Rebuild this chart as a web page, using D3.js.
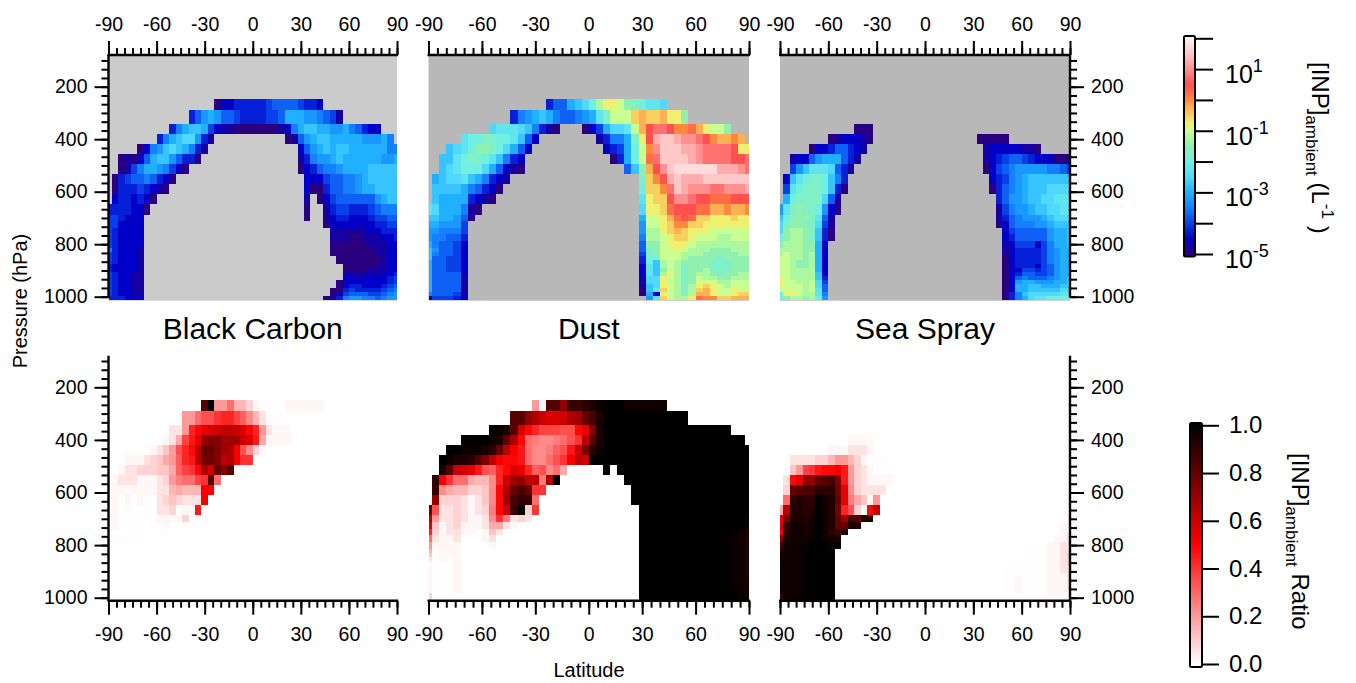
<!DOCTYPE html>
<html>
<head>
<meta charset="utf-8">
<script src="https://cdn.jsdelivr.net/npm/d3@7"></script>
<style>
  body { margin: 0; background: #fff; }
  text { font-family: "Liberation Sans", Arial, sans-serif; fill: #000; }
</style>
</head>
<body>
<script>
// Each row is one pressure layer, top to bottom. A row holds [first column, codes] runs.
// Columns are the 4 degree latitude bands (half bands at the poles).
const pressureEdges = [247, 289, 343, 381, 419, 457, 496, 534, 572, 610, 648, 687, 712, 738, 763, 789,
  814, 830, 845, 860, 875, 890, 906, 921, 936, 952, 967, 982, 998, 1013.25];

// INP codes: base 36, log10(INP) = -5 + code / 4
const blackCarbonInp = [
  [[17, "02233333455554332"]],
  [[13, "357875543333445888776541"]],
  [[10, "368998421100000001268998877865322"]],
  [[8, "3689aa731"], [28, "01578998888877786"]],
  [[5, "02679a98631"], [30, "2578989988888866"]],
  [[2, "0102589975330"], [30, "1367789888888778"]],
  [[2, "01468876420"], [30, "0235667888899999"]],
  [[1, "0345565320"], [31, "222455667899999"]],
  [[1, "033343210"], [31, "200355667889999"]],
  [[1, "2332320"], [31, "1"], [33, "0245555557899"]],
  [[0, "3333220"], [31, "0"], [34, "134433345666"]],
  [[0, "443222"], [31, "0"], [34, "123322234455"]],
  [[0, "442222"], [34, "022222223344"]],
  [[0, "432222"], [35, "11111122333"]],
  [[0, "432222"], [35, "11100111223"]],
  [[0, "432222"], [35, "00000011122"]],
  [[0, "632221"], [35, "00000001122"]],
  [[0, "432221"], [35, "00000001122"]],
  [[0, "432221"], [36, "0000000122"]],
  [[0, "432221"], [36, "0000000122"]],
  [[0, "322221"], [37, "000001122"]],
  [[0, "322221"], [37, "000011122"]],
  [[0, "432211"], [37, "111111223"]],
  [[0, "432211"], [37, "221222234"]],
  [[0, "432211"], [36, "0222222234"]],
  [[0, "432211"], [36, "0233222345"]],
  [[0, "432211"], [35, "00343333456"]],
  [[0, "432211"], [35, "01455544567"]],
  [[0, "333222"], [34, "013677665677"]]
];

const dustInp = [
  [[17, "35589acfhhgedcbba"]],
  [[12, "367898655678bdgggijiijhhe"]],
  [[9, "abbba96310"], [22, "0248aabgjmnnmkkljhgge"]],
  [[5, "bccddccb952"], [24, "13668dhmpqqpoonmkjjkj"]],
  [[3, "9abceedca852"], [25, "2348cgkoqqqpponnnnmhh"]],
  [[2, "99bcddcb9632"], [26, "038cglnqqqqponnnnmmn"]],
  [[2, "9abccca85210"], [28, "59ejmoqrrrrrrpppon"]],
  [[1, "89aab986321"], [30, "dikmpqpppqqqqqqq"]],
  [[1, "9999865320"], [30, "ciiknqpooonnooop"]],
  [[1, "988883210"], [30, "bhiimoonmmlllmmm"]],
  [[0, "ba888610"], [30, "ahhilmmmlljjkjjk"]],
  [[0, "9988750"], [30, "8gghjlmliihhhihh"]],
  [[0, "887774"], [30, "7gghikkiihhhhhhh"]],
  [[0, "776664"], [30, "7ffhijihhhgggggg"]],
  [[0, "766553"], [30, "6ffghiihgggffggg"]],
  [[0, "865542"], [30, "5eeghhhgffffffff"]],
  [[0, "975542"], [30, "5degghgfffeeefff"]],
  [[0, "965542"], [30, "4degggfffeeeeeff"]],
  [[0, "955442"], [30, "3cdgggfeeeedeeee"]],
  [[0, "855442"], [30, "3c9fgfeeeedddeee"]],
  [[0, "855442"], [30, "2b9fgfdeeedddeee"]],
  [[0, "855442"], [30, "2b9egfdeefdddeee"]],
  [[0, "855552"], [30, "2b9fhfdeffedeeff"]],
  [[0, "855551"], [30, "1aahgfdegffeefff"]],
  [[0, "855551"], [30, "1aahgfdegggffggg"]],
  [[0, "855551"], [30, "19ahgfdfhihgfggg"]],
  [[0, "855551"], [30, "09bigfdfijhgghgg"]],
  [[0, "655541"], [30, "082hgfefjjhgghii"]],
  [[0, "144432"], [31, "7bigffhlkkiijjj"]]
];

const seaSprayInp = [
  [],
  [],
  [[12, "000"]],
  [[8, "0122210"], [31, "00000"]],
  [[5, "022355321"], [32, "122222110"]],
  [[2, "12257888531"], [32, "12345543222000"]],
  [[2, "479bbba531"], [32, "02456777776654"]],
  [[1, "29bcddc963"], [33, "2346789999999"]],
  [[1, "4bcdddc930"], [33, "035678999aaaa"]],
  [[1, "8cdddda51"], [34, "3577899aabbb"]],
  [[0, "7bdeddc720"], [34, "14677899aabb"]],
  [[0, "9ceeedb51"], [34, "135677789aaa"]],
  [[0, "adeedda41"], [34, "025666778999"]],
  [[0, "aeffed930"], [35, "24555557889"]],
  [[0, "ceffed930"], [35, "23555557889"]],
  [[0, "efffee82"], [35, "12444246889"]],
  [[0, "ffffee82"], [35, "12333346788"]],
  [[0, "fgffef82"], [35, "12333346788"]],
  [[0, "ggffef82"], [35, "02333346788"]],
  [[0, "ggfeef82"], [35, "02333346788"]],
  [[0, "ggfeef82"], [35, "02333245788"]],
  [[0, "ggffff82"], [35, "02244345788"]],
  [[0, "ggffff92"], [35, "02355445788"]],
  [[0, "hgffff93"], [35, "02565556789"]],
  [[0, "hggffga4"], [35, "02788777889"]],
  [[0, "hgggfga5"], [35, "02889988899"]],
  [[0, "ggggfgb5"], [35, "028899999aa"]],
  [[0, "chhgffb6"], [35, "0369aaaaabb"]],
  [[0, "ceffefc7"], [35, "0368abbcccc"]]
];

// Ratio codes: base 36, ratio = code / 35, the two lowest codes are fainter (see ratioOf)
const blackCarbonRatio = [
  [[15, "tz77a55310000111111"]],
  [[12, "77acceffdb852000000"]],
  [[10, "227fhjklmmlkhf72111"]],
  [[8, "0126dgjpqqooolkg61111"]],
  [[6, "01247cfhmssqonic831"]],
  [[2, "011123467bfgmrrqmniee"]],
  [[2, "122333446bdehnlsqt"]],
  [[1, "12221112379aadeta"]],
  [[1, "11111112256555ii"]],
  [[1, "10101002343222i"]],
  [[1, "1000000223011g"]],
  [[1, "100000011113"]],
  [[1, "100000001"]],
  [[1, "000000000"]],
  [[1, "00000"]],
  [[4, "0"]],
  [[4, "0"]]
];

const dustRatio = [
  [[15, "71ttpvvwxyzzzyyyyyy"]],
  [[12, "ttpnlkklnosuxzzzzzzzzzzzz"]],
  [[9, "zyxtkhfdddcchjqxzzzzzzzzzzzzzzzzzz"]],
  [[5, "zzzzyxsnha9889acemtxzzzzzzzzzzzzzzzzzzzz"]],
  [[3, "zzyyyxwsmiga889bcglrwyzzzzzzzzzzzzzzzzzzzzz"]],
  [[2, "zyxxwtqmihhga88aceimlzzzzzzzzzzzzzzzzzzzzzzz"]],
  [[2, "xtlkjgcbfhkjfbc8a6"], [25, "z"], [27, "zzzzzzzzzzzzzzzzzzz"]],
  [[1, "wieaa6558flopmm9nz"], [28, "zzzzzzzzzzzzzzzzzz"]],
  [[1, "v86553348hnsusee"], [29, "zzzzzzzzzzzzzzzzz"]],
  [[1, "p33321248houwva"], [29, "zzzzzzzzzzzzzzzzz"]],
  [[0, "sc22321239hlvz3e"], [30, "zzzzzzzzzzzzzzzz"]],
  [[0, "m722321128e9232"], [30, "zzzzzzzzzzzzzzzy"]],
  [[0, "j412311126621"], [30, "zzzzzzzzzzzzzzzy"]],
  [[0, "f3122110142"], [30, "zzzzzzzzzzzzzzyx"]],
  [[0, "a211200012"], [30, "zzzzzzzzzzzzzyyx"]],
  [[0, "7111100001"], [30, "zzzzzzzzzzzzzyyx"]],
  [[0, "50111"], [30, "zzzzzzzzzzzzzyyx"]],
  [[0, "40111"], [30, "zzzzzzzzzzzzzyyx"]],
  [[0, "20101"], [30, "zzzzzzzzzzzzzyyx"]],
  [[0, "10001"], [30, "zzzzzzzzzzzzzyyx"]],
  [[0, "10001"], [30, "zzzzzzzzzzzzzyyx"]],
  [[0, "10001"], [30, "zzzzzzzzzzzzzyyx"]],
  [[0, "10001"], [30, "zzzzzzzzzzzzzyyx"]],
  [[0, "10001"], [30, "zzzzzzzzzzzzzyyx"]],
  [[0, "10001"], [30, "zzzzzzzzzzzzzyyx"]],
  [[0, "10001"], [30, "zzzzzzzzzzzzzzyy"]],
  [[0, "10001"], [30, "zzzzzzzzzzzzzzyy"]],
  [[0, "30000"], [30, "zzzzzzzzzzzzzzyy"]],
  [[0, "30000"], [30, "zzzzzzzzzzzzzzyy"]]
];

const seaSprayRatio = [
  [],
  [],
  [[12, "00000000"]],
  [[10, "0111100"]],
  [[6, "001112221000"]],
  [[2, "222233577531000"], [21, "0"]],
  [[2, "47deghhig73210000"]],
  [[1, "2hjppstuqg73211110"]],
  [[1, "3stuuwwwrj832222"]],
  [[1, "awxwwzyxsj96417"]],
  [[0, "6mxxwxzyxrfc30hl"]],
  [[0, "jrxxxyzyxsoutwx"], [40, "000000"]],
  [[0, "kvyyxyzyxssxx"], [41, "00011"]],
  [[0, "iwyyxyzywvx"], [41, "00011"]],
  [[0, "qxyyyyzyyx"], [39, "0000112"]],
  [[0, "uyyyyzzzyz"], [38, "00001122"]],
  [[0, "xyyyzzzzz"], [38, "00001122"]],
  [[0, "yyyyzzzzz"], [37, "000001123"]],
  [[0, "yyyyzzzzz"], [36, "0000001123"]],
  [[0, "yyyyzzzzz"], [36, "0000001123"]],
  [[0, "yyyyzzzzz"], [35, "00000001122"]],
  [[0, "yyyyzzzzz"], [35, "00000001122"]],
  [[0, "yyyyzzzzz"], [35, "00000001112"]],
  [[0, "yyyyzzzzz"], [35, "00100001112"]],
  [[0, "yyyyzzzzz"], [35, "00100001112"]],
  [[0, "yyyyzzzzz"], [35, "00100001112"]],
  [[0, "yyyyzzzzz"], [35, "00100001111"]],
  [[0, "wyyyzzzzz"], [35, "00000001110"]],
  [[0, "wyyyzzzzz"], [35, "00000011110"]]
];

const panelNames = ["Black Carbon", "Dust", "Sea Spray"];
const latTicks = [-90, -60, -30, 0, 30, 60, 90];
const pressureTicks = [200, 400, 600, 800, 1000];
const inpExponents = [-5, -4, -3, -2, -1, 0, 1, 2];
const ratioTicks = [0, 0.2, 0.4, 0.6, 0.8, 1];
const faintRatios = [0.004, 0.016];

// colour ramps
const inpStops = [-5, -4.5, -4, -3.5, -3, -2.5, -2, -1.5, -1, -0.75, -0.25, 0, 0.5, 1, 1.5, 2.2];
const inpColors = ["#2a0080", "#0000c8", "#0a40e8", "#1480ff", "#20b0ff", "#50d8ff", "#70f0e0", "#90f0b0",
  "#c8ff90", "#f0f070", "#ffb050", "#ff8840", "#ff5050", "#ff9090", "#ffc8c8", "#ffffff"];
const inpColor = d3.scaleLinear().domain(inpStops).range(inpColors);
const ratioColor = d3.scaleLinear().domain([0, 0.5, 1]).range(["#ffffff", "#ff0000", "#000000"]);

const svg = d3.select("body").append("svg")
  .attr("width", 1356)
  .attr("height", 683);

const xRanges = [[108.5, 397], [428.5, 749], [780, 1070]];
const topBackgrounds = ["#cbcbcb", "#b8b8b8", "#b8b8b8"];
const minorLat = d3.range(-90, 91, 5);
const minorPressure = d3.range(1000, 81, -200 / 6);

const yTop = d3.scaleLinear().domain([200, 1000]).range([86.7, 296.7]);
const yBottom = d3.scaleLinear().domain([200, 1000]).range([387.3, 597.7]);

function latEdge(col) {
  return Math.max(-90, Math.min(90, -92 + 4 * col));
}

function ratioOf(code) {
  return code < faintRatios.length ? faintRatios[code] : code / 35;
}

// turn [first column, codes] runs into cells
function drawCells(group, rows, x, y, colorOf) {
  rows.forEach((runs, r) => {
    runs.forEach(([first, codes]) => {
      codes.split("").forEach((ch, i) => {
        const col = first + i;
        group.append("rect")
          .attr("x", x(latEdge(col)))
          .attr("y", y(pressureEdges[r]))
          .attr("width", x(latEdge(col + 1)) - x(latEdge(col)))
          .attr("height", y(pressureEdges[r + 1]) - y(pressureEdges[r]))
          .attr("fill", colorOf(parseInt(ch, 36)));
      });
    });
  });
}

function styleAxis(g) {
  g.selectAll("line").attr("stroke", "#000").attr("stroke-width", 2);
  g.select(".domain").remove();
  g.selectAll("text").style("font-size", "19.5px");
}

function drawXAxis(x, yPos, isTop) {
  const make = isTop ? d3.axisTop : d3.axisBottom;
  const g = svg.append("g").attr("transform", `translate(0,${yPos})`);
  g.append("g").call(make(x).tickValues(minorLat).tickSize(7).tickFormat("")).call(styleAxis);
  g.append("g").call(make(x).tickValues(latTicks).tickSize(14).tickPadding(isTop ? 10.5 : 12).tickFormat(d => String(d))).call(styleAxis);
  g.append("line")
    .attr("x1", x.range()[0] - 1).attr("x2", x.range()[1] + 1)
    .attr("stroke", "#000").attr("stroke-width", 2.4);
}

function drawYAxis(y, xPos, isLeft, yStart, yEnd) {
  const make = isLeft ? d3.axisLeft : d3.axisRight;
  const g = svg.append("g").attr("transform", `translate(${xPos},0)`);
  g.append("g").call(make(y).tickValues(minorPressure).tickSize(7).tickFormat("")).call(styleAxis);
  g.append("g").call(make(y).tickValues(pressureTicks).tickSize(14).tickPadding(7).tickFormat(d3.format("d"))).call(styleAxis);
  g.append("line")
    .attr("y1", yStart).attr("y2", yEnd)
    .attr("stroke", "#000").attr("stroke-width", 2.4);
}

const inpRows = [blackCarbonInp, dustInp, seaSprayInp];
const ratioRows = [blackCarbonRatio, dustRatio, seaSprayRatio];

panelNames.forEach((name, i) => {
  const x = d3.scaleLinear().domain([-90, 90]).range(xRanges[i]);

  // top row: ambient INP on a grey background
  svg.append("rect")
    .attr("x", xRanges[i][0]).attr("y", 55.7)
    .attr("width", xRanges[i][1] - xRanges[i][0]).attr("height", 245)
    .attr("fill", topBackgrounds[i]);
  drawCells(svg.append("g").attr("shape-rendering", "crispEdges"), inpRows[i], x, yTop,
    code => inpColor(-5 + code / 4));
  drawXAxis(x, 55, true);

  // bottom row: ratio on white
  drawCells(svg.append("g").attr("shape-rendering", "crispEdges"), ratioRows[i], x, yBottom,
    code => ratioColor(ratioOf(code)));
  drawXAxis(x, 600.7, false);

  svg.append("text")
    .attr("x", (xRanges[i][0] + xRanges[i][1]) / 2)
    .attr("y", 339)
    .attr("text-anchor", "middle")
    .style("font-size", "30px")
    .text(name);
});

const x0 = xRanges[0][0];
const x2 = xRanges[2][1];
drawYAxis(yTop, x0, true, 55, 297.5);
drawYAxis(yTop, x2, false, 55, 297.5);
drawYAxis(yBottom, x0, true, 355.7, 600.7);
drawYAxis(yBottom, x2, false, 355.7, 600.7);

svg.append("text")
  .attr("transform", "translate(27,301) rotate(-90)")
  .attr("text-anchor", "middle")
  .style("font-size", "20px")
  .text("Pressure (hPa)");

svg.append("text")
  .attr("x", 589)
  .attr("y", 677)
  .attr("text-anchor", "middle")
  .style("font-size", "20px")
  .text("Latitude");

// colour bar for ambient INP
const inpBar = d3.scaleLinear().domain([-5, 2]).range([254, 38.3]);
const barTop = svg.append("g").attr("shape-rendering", "crispEdges");
d3.range(36, 257).forEach(py => {
  barTop.append("rect")
    .attr("x", 1184).attr("y", py).attr("width", 11).attr("height", 1.2)
    .attr("fill", inpColor(inpBar.invert(py + 0.5)));
});
svg.append("rect")
  .attr("x", 1184).attr("y", 36).attr("width", 11).attr("height", 220.5).attr("rx", 1.5)
  .attr("fill", "none").attr("stroke", "#000").attr("stroke-width", 2);

const inpAxis = svg.append("g").attr("transform", "translate(1195,0)")
  .call(d3.axisRight(inpBar).tickValues(inpExponents).tickSize(18).tickPadding(12).tickFormat(""));
inpAxis.select(".domain").remove();
inpAxis.selectAll("line").attr("stroke", "#000").attr("stroke-width", 2);
inpAxis.selectAll(".tick text").each(function(d) {
  if (d % 2 === 0) return;
  const t = d3.select(this).attr("dy", "13.5px").style("font-size", "25px");
  t.append("tspan").text("10");
  t.append("tspan").attr("dy", "-11px").style("font-size", "18px").text(String(d));
});

svg.append("text")
  .attr("transform", "translate(1312,62) rotate(90)")
  .style("font-size", "24px")
  .call(t => {
    t.append("tspan").text("[INP]");
    t.append("tspan").attr("dy", 6).style("font-size", "17px").text("ambient");
    t.append("tspan").attr("dy", -6).text(" (L");
    t.append("tspan").attr("dy", -10).style("font-size", "17px").text("-1");
    t.append("tspan").attr("dy", 10).text(" )");
  });

// colour bar for the ratio
const ratioBar = d3.scaleLinear().domain([0, 1]).range([664, 425.3]);
const barBottom = svg.append("g").attr("shape-rendering", "crispEdges");
d3.range(423, 667).forEach(py => {
  barBottom.append("rect")
    .attr("x", 1190).attr("y", py).attr("width", 12).attr("height", 1.2)
    .attr("fill", ratioColor(Math.max(0, Math.min(1, ratioBar.invert(py + 0.5)))));
});
svg.append("rect")
  .attr("x", 1190).attr("y", 423).attr("width", 12).attr("height", 244).attr("rx", 1.5)
  .attr("fill", "none").attr("stroke", "#000").attr("stroke-width", 2);

const ratioAxis = svg.append("g").attr("transform", "translate(1202,0)")
  .call(d3.axisRight(ratioBar).tickValues(ratioTicks).tickSize(17).tickPadding(10).tickFormat(d3.format(".1f")));
ratioAxis.select(".domain").remove();
ratioAxis.selectAll("line").attr("stroke", "#000").attr("stroke-width", 2);
ratioAxis.selectAll("text").style("font-size", "24px");

svg.append("text")
  .attr("transform", "translate(1292,453) rotate(90)")
  .style("font-size", "24px")
  .call(t => {
    t.append("tspan").text("[INP]");
    t.append("tspan").attr("dy", 6).style("font-size", "17px").text("ambient");
    t.append("tspan").attr("dy", -6).text(" Ratio");
  });
</script>
</body>
</html>
